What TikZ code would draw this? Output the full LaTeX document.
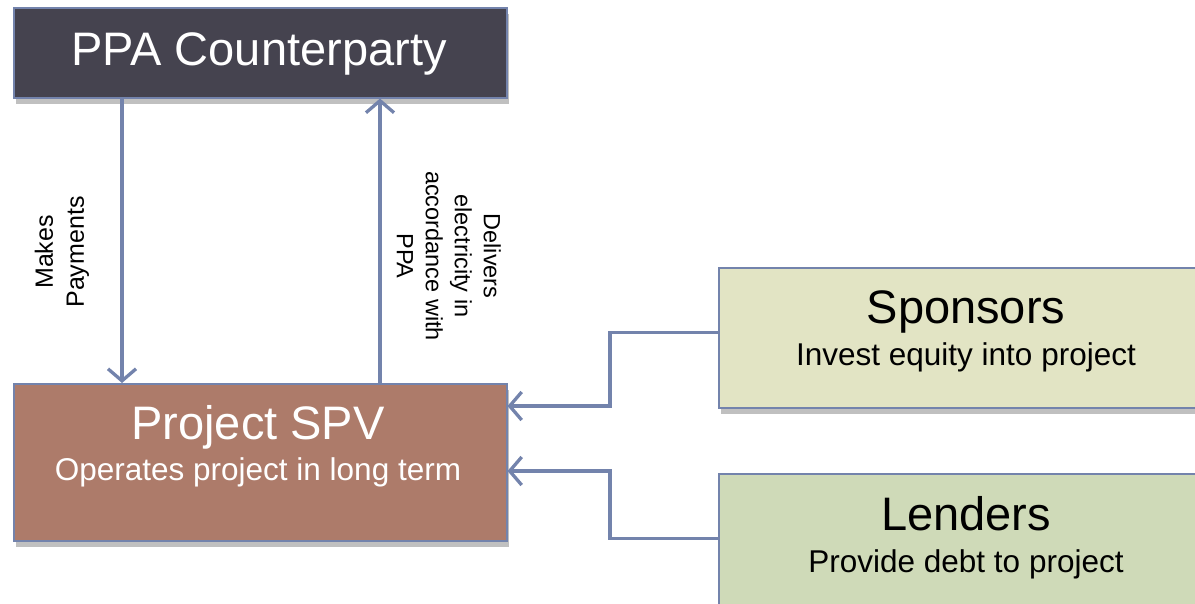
\documentclass[tikz,border=0pt]{standalone}
\usepackage{fontspec}
\setmainfont{Liberation Sans}
\usetikzlibrary{arrows.meta,shadows}
\definecolor{ppafill}{HTML}{45434F}
\definecolor{spvfill}{HTML}{AD7B6A}
\definecolor{sponfill}{HTML}{E2E4C4}
\definecolor{lendfill}{HTML}{CFDAB8}
\definecolor{conncol}{HTML}{7383AC}
\tikzset{
  box/.style={draw=conncol, line width=1.5pt, minimum width=493pt, anchor=north west, inner sep=0pt,
    drop shadow={shadow xshift=2pt, shadow yshift=-6pt, opacity=0.45, fill=black!55}},
  conn/.style={draw=conncol, line width=3.3pt, -{Straight Barb[length=12pt, width=28pt, line width=3.3pt]}},
  bigtxt/.style={font=\fontsize{47}{56}\selectfont, anchor=base, inner sep=0pt},
  subtxt/.style={font=\fontsize{31.5}{38}\selectfont, anchor=base, inner sep=0pt},
}
\begin{document}
\begin{tikzpicture}[x=1pt,y=-1pt]
\useasboundingbox (0,0) rectangle (1195,603);
% boxes
\node[box, fill=ppafill, minimum height=90pt] (ppa) at (13,7) {};
\node[box, fill=spvfill, minimum height=157pt] (spv) at (13,383) {};
\node[box, fill=sponfill, minimum height=140pt] (spon) at (718,267) {};
\node[box, fill=lendfill, minimum height=140pt] (lend) at (718,473) {};
% texts
\node[bigtxt, text=white] (ppat) at (259,65) {PPA Counterparty};
\node[bigtxt, text=white] (spvt) at (258,439) {Project SPV};
\node[subtxt, text=white] (spvs) at (258,480) {Operates project in long term};
\node[bigtxt] (sport) at (966,323) {Sponsors};
\node[subtxt] (spons) at (966,365) {Invest equity into project};
\node[bigtxt] (lendt) at (966,530) {Lenders};
\node[subtxt] (lends) at (966,572) {Provide debt to project};
% connectors
\draw[conn] ([xshift=109pt]ppa.south west) -- ([xshift=109pt]spv.north west);
\draw[conn] ([xshift=367pt]spv.north west) -- ([xshift=367pt]ppa.south west);
\coordinate (sj) at (610,406);
\coordinate (lj) at (610,471);
\draw[conn] ([yshift=5pt]spon.west) -| (sj) -- (sj -| spv.east);
\draw[conn] ([yshift=5pt]lend.west) -| (lj) -- (lj -| spv.east);
% connector labels
\node[rotate=90, align=center, font=\fontsize{25}{31}\selectfont, inner sep=0pt] (mp) at (62,252) {Makes\\Payments};
\node[rotate=-90, align=center, font=\fontsize{23.5}{29}\selectfont, inner sep=0pt] (dl) at (449,256) {Delivers\\electricity in\\accordance with\\PPA};
\end{tikzpicture}
\end{document}
